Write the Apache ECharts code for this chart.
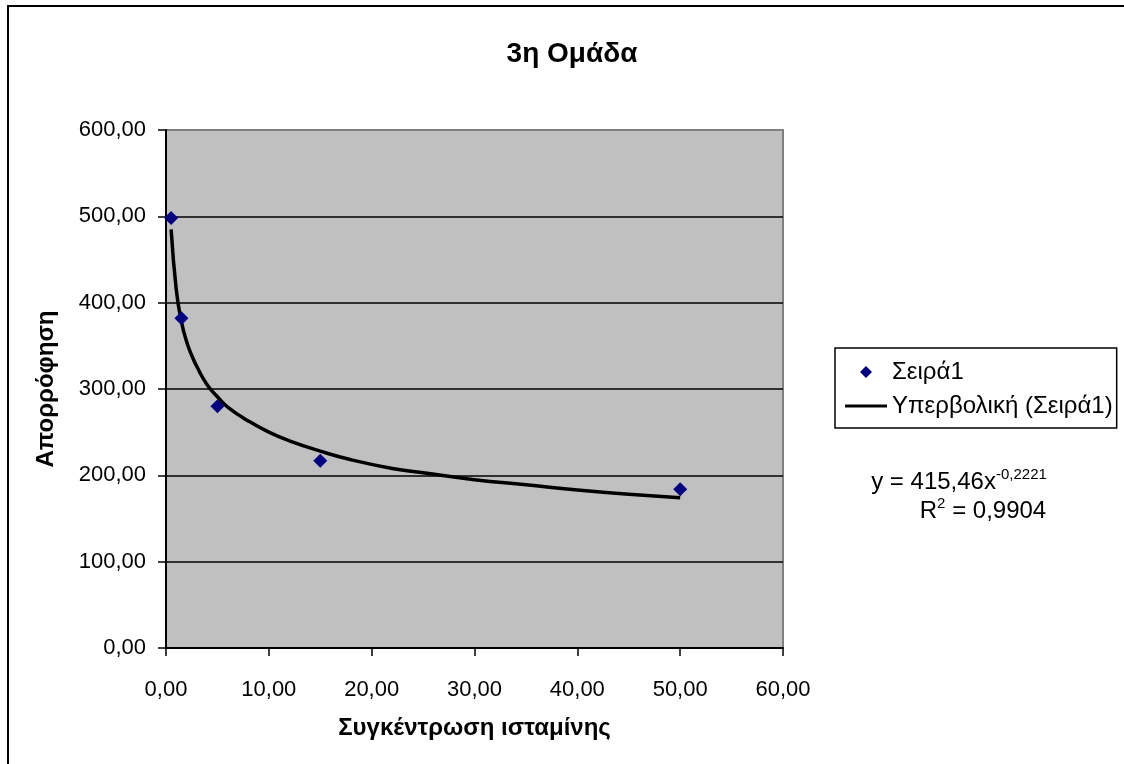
<!DOCTYPE html>
<html>
<head>
<meta charset="utf-8">
<script src="https://cdn.jsdelivr.net/npm/echarts@6/dist/echarts.min.js"></script>
<style>
html,body{margin:0;padding:0;background:#fff;}
#c{width:1124px;height:764px;}
</style>
</head>
<body>
<div id="c"></div>
<script>
// Data
const pointX = [0.5, 1.5, 5, 15, 50];
const pointY = [498, 382, 280, 217, 184];
const trendX = [0.5, 1, 1.5, 2, 2.5, 3, 4, 5, 6, 8, 10, 12, 15, 18, 22, 25, 30, 35, 40, 45, 50];
const trendY = [485, 415, 378, 355, 339, 326, 305, 291, 279, 263, 250, 240, 228, 218, 208, 203, 195, 189, 183, 178, 174];
const yTicks = [0, 100, 200, 300, 400, 500, 600];
const xTicks = [0, 10, 20, 30, 40, 50, 60];
const seriesNames = ['Σειρά1', 'Υπερβολική (Σειρά1)'];
const titleText = '3η Ομάδα';
const xName = 'Συγκέντρωση ισταμίνης';
const yName = 'Απορρόφηση';

const F = '"Liberation Sans", Arial, sans-serif';
const fmt = v => v.toFixed(2).replace('.', ',');

const chart = echarts.init(document.getElementById('c'), null, {renderer: 'canvas'});
chart.setOption({
  backgroundColor: '#ffffff',
  animation: false,
  title: {
    text: titleText, left: 567, top: 35, textAlign: 'center',
    textStyle: {fontFamily: F, fontWeight: 'bold', fontSize: 28, color: '#000'}
  },
  grid: {
    left: 166, top: 130, right: 341, bottom: 116,
    show: true, backgroundColor: '#c0c0c0', borderColor: '#808080', borderWidth: 2
  },
  xAxis: {
    type: 'value', min: xTicks[0], max: xTicks[xTicks.length - 1], interval: 10,
    name: xName, nameLocation: 'middle', nameGap: 68,
    nameTextStyle: {fontFamily: F, fontWeight: 'bold', fontSize: 24, color: '#000'},
    axisLine: {show: true, onZero: false, lineStyle: {color: '#000', width: 2}},
    axisTick: {show: true, length: 8, lineStyle: {color: '#000', width: 1.5}},
    axisLabel: {formatter: fmt, margin: 31, fontFamily: F, fontSize: 22, color: '#000'},
    splitLine: {show: false}
  },
  yAxis: {
    type: 'value', min: yTicks[0], max: yTicks[yTicks.length - 1], interval: 100,
    name: yName, nameLocation: 'middle', nameGap: 108,
    nameTextStyle: {fontFamily: F, fontWeight: 'bold', fontSize: 24, color: '#000'},
    axisLine: {show: true, onZero: false, lineStyle: {color: '#000', width: 2}},
    axisTick: {show: true, length: 8, lineStyle: {color: '#000', width: 1.5}},
    axisLabel: {formatter: fmt, margin: 20, fontFamily: F, fontSize: 22, color: '#000'},
    splitLine: {show: true, showMaxLine: false, lineStyle: {color: '#000', width: 1.5}}
  },
  legend: {
    orient: 'vertical', left: 835, top: 348,
    padding: [10, 4, 8, 10], itemGap: 6,
    backgroundColor: '#fff', borderColor: '#000', borderWidth: 1.5, borderRadius: 0,
    itemWidth: 42, itemHeight: 12,
    textStyle: {fontFamily: F, fontSize: 24, color: '#000', lineHeight: 28},
    data: [
      {name: seriesNames[0], icon: 'path://M0,-1L1,0L0,1L-1,0Z', itemStyle: {color: '#000080'}},
      {name: seriesNames[1], icon: 'path://M0,0L42,0L42,3L0,3Z', itemStyle: {color: '#000'}}
    ]
  },
  series: [
    {
      name: seriesNames[0], type: 'scatter', symbol: 'diamond', symbolSize: 14,
      itemStyle: {color: '#000080', opacity: 1}, z: 5,
      data: pointX.map((x, i) => [x, pointY[i]])
    },
    {
      name: seriesNames[1], type: 'line', showSymbol: false, symbol: 'none', smooth: true,
      lineStyle: {color: '#000', width: 3.5}, itemStyle: {color: '#000'}, z: 4,
      data: trendX.map((x, i) => [x, trendY[i]])
    }
  ],
  graphic: [
    {type: 'rect', shape: {x: 8, y: 6, width: 1130, height: 770}, style: {fill: 'none', stroke: '#000', lineWidth: 2}, silent: true},
    {type: 'text', x: 959, y: 482, style: {
      text: '{n|y = 415,46x}{s|-0,2221}', textAlign: 'center', textVerticalAlign: 'middle',
      rich: {n: {fontFamily: F, fontSize: 24, color: '#000'}, s: {fontFamily: F, fontSize: 15, color: '#000', padding: [0, 0, 14, 0]}}
    }},
    {type: 'text', x: 983, y: 511, style: {
      text: '{n|R}{s|2}{n| = 0,9904}', textAlign: 'center', textVerticalAlign: 'middle',
      rich: {n: {fontFamily: F, fontSize: 24, color: '#000'}, s: {fontFamily: F, fontSize: 15, color: '#000', padding: [0, 0, 14, 0]}}
    }}
  ]
});
</script>
</body>
</html>
